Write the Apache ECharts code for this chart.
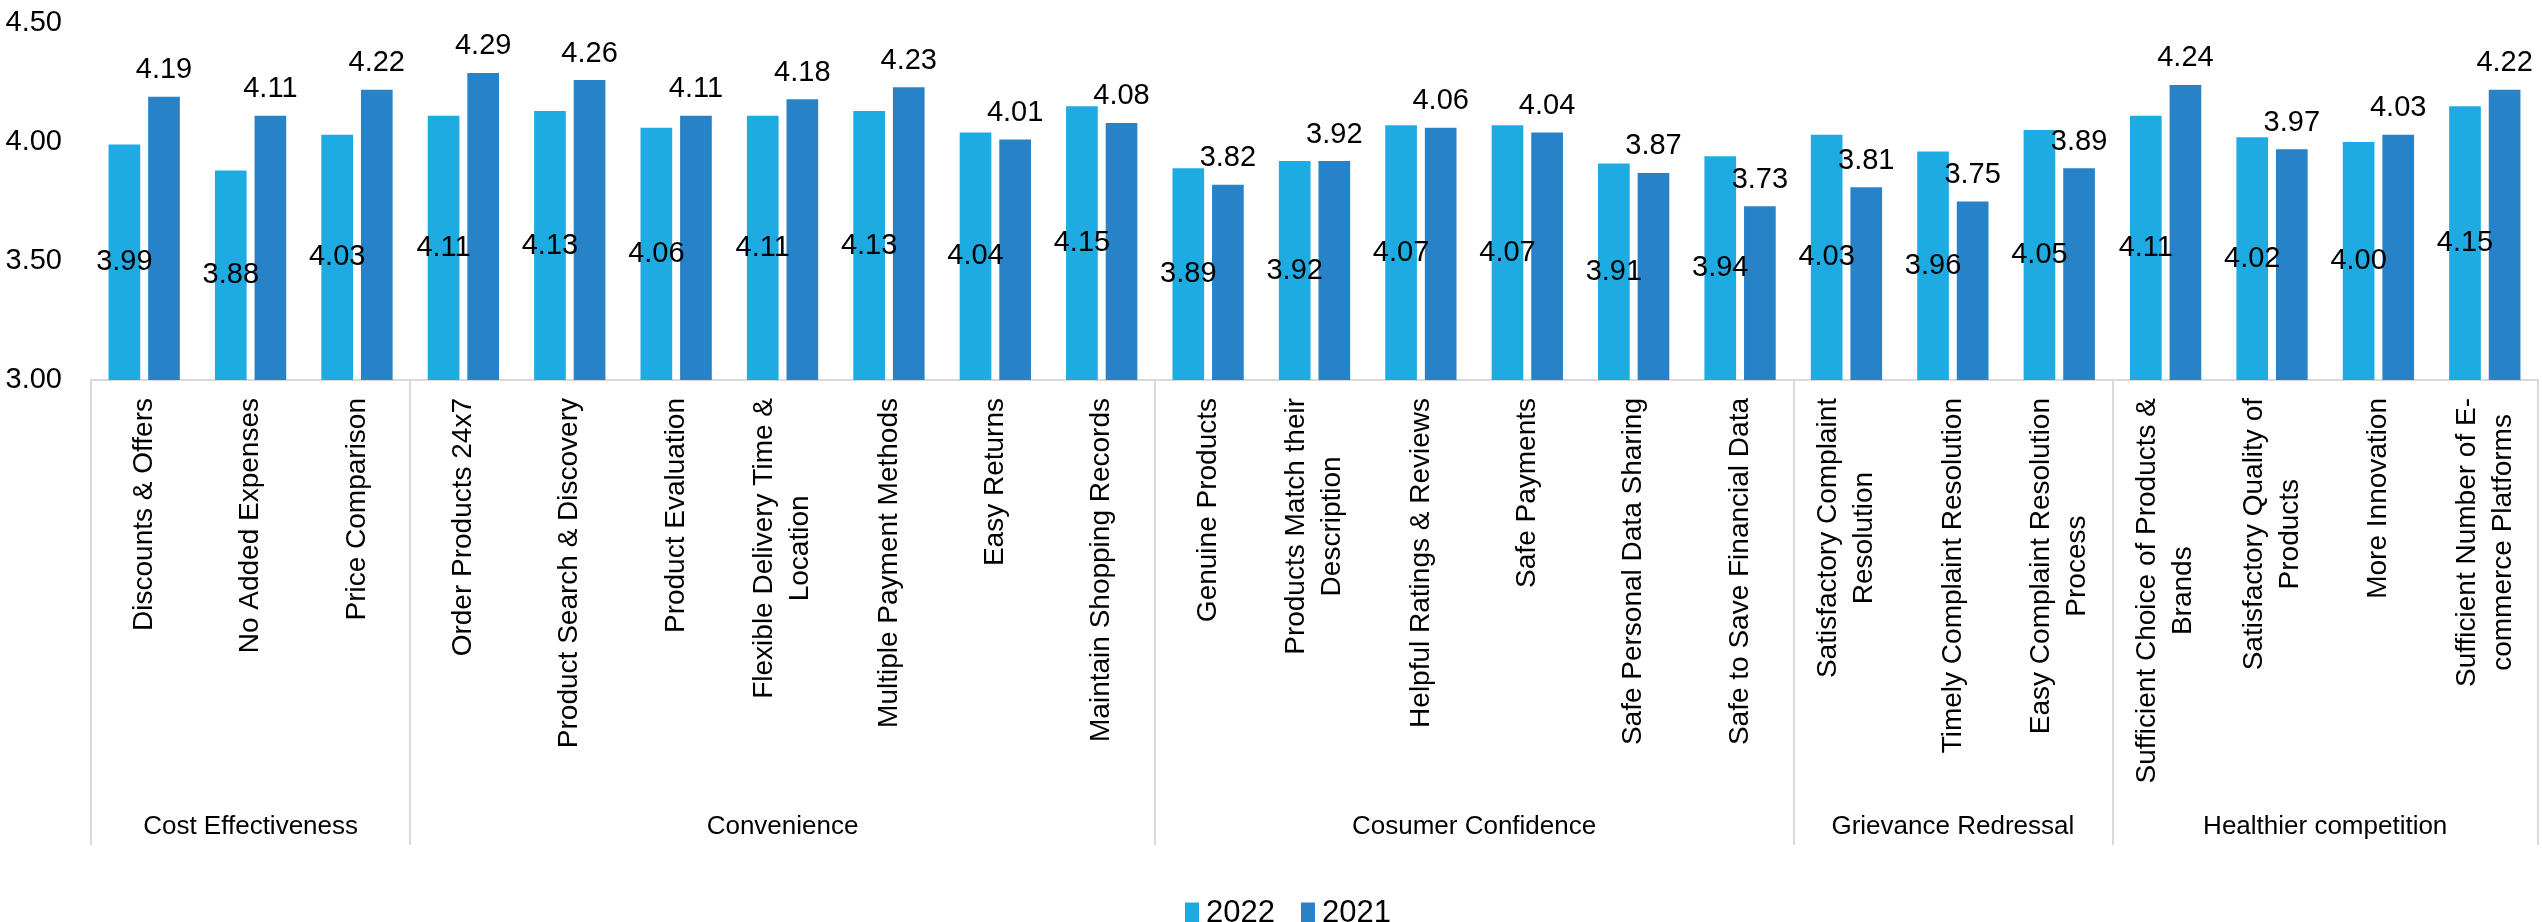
<!DOCTYPE html>
<html>
<head>
<meta charset="utf-8">
<script src="https://cdn.jsdelivr.net/npm/echarts@6/dist/echarts.min.js"></script>
<style>
  html, body { margin: 0; padding: 0; background: #ffffff; }
  #chart { width: 2542px; height: 922px; }
</style>
</head>
<body>
<div id="chart"></div>
<script>
// Attributes rated by shoppers, in axis order (line breaks as printed)
const categories = [
  'Discounts & Offers',
  'No Added Expenses',
  'Price Comparison',
  'Order Products 24x7',
  'Product Search & Discovery',
  'Product Evaluation',
  'Flexible Delivery Time &\nLocation',
  'Multiple Payment Methods',
  'Easy Returns',
  'Maintain Shopping Records',
  'Genuine Products',
  'Products Match their\nDescription',
  'Helpful Ratings & Reviews',
  'Safe Payments',
  'Safe Personal Data Sharing',
  'Safe to Save Financial Data',
  'Satisfactory Complaint\nResolution',
  'Timely Complaint Resolution',
  'Easy Complaint Resolution\nProcess',
  'Sufficient Choice of Products &\nBrands',
  'Satisfactory Quality of\nProducts',
  'More Innovation',
  'Sufficient Number of E-\ncommerce Platforms'
];

// Mean scores per year
const values2022 = [3.99, 3.88, 4.03, 4.11, 4.13, 4.06, 4.11, 4.13, 4.04, 4.15, 3.89, 3.92, 4.07, 4.07, 3.91, 3.94, 4.03, 3.96, 4.05, 4.11, 4.02, 4.00, 4.15];
const values2021 = [4.19, 4.11, 4.22, 4.29, 4.26, 4.11, 4.18, 4.23, 4.01, 4.08, 3.82, 3.92, 4.06, 4.04, 3.87, 3.73, 3.81, 3.75, 3.89, 4.24, 3.97, 4.03, 4.22];

// Attribute groups and how many attributes each holds
const groupNames = ['Cost Effectiveness', 'Convenience', 'Cosumer Confidence', 'Grievance Redressal', 'Healthier competition'];
const groupSizes = [3, 7, 6, 3, 4];

// Value axis ticks
const yTicks = [3.00, 3.50, 4.00, 4.50];

// Group boundaries and centres in category units
const groupBounds = [0];
const groupCenters = [];
groupSizes.forEach(function (n, i) {
  const start = groupBounds[i];
  groupBounds.push(start + n);
  groupCenters.push(start + n / 2);
});

const font = "'Liberation Sans', Arial, sans-serif";
const lineGray = '#d9d9d9';

const chart = echarts.init(document.getElementById('chart'));

chart.setOption({
  animation: false,
  textStyle: { fontFamily: font, color: '#000' },
  grid: { left: 91, right: 4, top: 23, bottom: 542, containLabel: false },
  legend: {
    data: ['2022', '2021'],
    left: 1180,
    top: 893,
    icon: 'rect',
    itemWidth: 14,
    itemHeight: 22,
    itemGap: 26,
    textStyle: { fontSize: 31, color: '#000', fontFamily: font, padding: [0, 0, 0, 2] }
  },
  xAxis: [
    {
      type: 'category',
      data: categories,
      axisLine: { show: true, lineStyle: { color: lineGray, width: 2 } },
      axisTick: { show: false },
      axisLabel: {
        interval: 0,
        rotate: 90,
        margin: 18,
        fontSize: 28,
        color: '#000',
        formatter: function (s) {
          return s.split('\n').map(function (line) { return '{c|' + line + '}'; }).join('\n');
        },
        rich: { c: { align: 'center', fontSize: 28, fontFamily: font, color: '#000', lineHeight: 36 } }
      }
    },
    {
      type: 'value',
      min: 0,
      max: categories.length,
      position: 'bottom',
      axisLine: { show: false },
      splitLine: { show: false },
      axisTick: {
        show: true,
        customValues: groupBounds,
        length: 465,
        lineStyle: { color: lineGray, width: 2 }
      },
      axisLabel: {
        customValues: groupCenters,
        margin: 434,
        fontSize: 26,
        color: '#000',
        formatter: function (v) {
          return groupNames[groupCenters.indexOf(v)] || '';
        }
      }
    }
  ],
  yAxis: {
    type: 'value',
    min: yTicks[0],
    max: yTicks[yTicks.length - 1],
    interval: 0.5,
    axisLine: { show: false },
    axisTick: { show: false },
    splitLine: { show: false },
    axisLabel: {
      margin: 29,
      fontSize: 29,
      color: '#000',
      formatter: function (v) { return v.toFixed(2); }
    }
  },
  series: [
    {
      name: '2022',
      type: 'bar',
      xAxisIndex: 0,
      data: values2022,
      barGap: '25%',
      barCategoryGap: '33%',
      itemStyle: { color: '#1eabe2' },
      label: {
        show: true,
        position: 'inside',
        fontSize: 29,
        color: '#000',
        formatter: function (p) { return p.value.toFixed(2); }
      }
    },
    {
      name: '2021',
      type: 'bar',
      xAxisIndex: 0,
      data: values2021,
      barGap: '25%',
      barCategoryGap: '33%',
      itemStyle: { color: '#2882c7' },
      label: {
        show: true,
        position: 'top',
        distance: 12,
        fontSize: 29,
        color: '#000',
        formatter: function (p) { return p.value.toFixed(2); }
      }
    }
  ]
});
</script>
</body>
</html>
